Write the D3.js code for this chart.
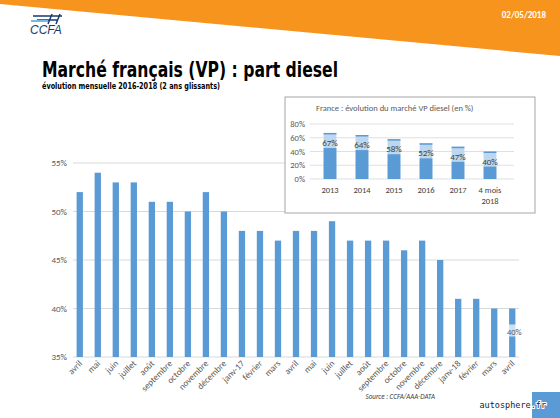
<!DOCTYPE html><html><head><meta charset="utf-8"><script src="https://cdn.jsdelivr.net/npm/d3@7"></script>
<style>body{margin:0}svg{display:block}</style></head><body><svg id="c" width="560" height="418"></svg>
<script>
const months=["avril","mai","juin","juillet","août","septembre","octobre","novembre","décembre","janv-17","février","mars","avril","mai","juin","juillet","août","septembre","octobre","novembre","décembre","janv-18","février","mars","avril"];
const share=[52,54,53,53,51,51,50,52,50,48,48,47,48,48,49,47,47,47,46,47,45,41,41,40,40];
const yTicks=[35,40,45,50,55];
const years=["2013","2014","2015","2016","2017","4 mois|2018"];
const yearTotal=[67,64,58,52,47,40];
const yearBase=[45,42,36,30,25,18];
const insetTicks=[0,20,40,60,80];
const svg=d3.select("#c");
const F="Calibri, Carlito, 'Liberation Sans', Arial, sans-serif";
svg.append("rect").attr("width",560).attr("height",418).attr("fill","#fff");
svg.append("path").attr("d","M0,0H560V56L0,4Z").attr("fill","#f7941d");
svg.append("text").attr("x",546).attr("y",18).attr("text-anchor","end").attr("fill","#fff").attr("font-family",F).attr("font-weight","bold").attr("font-size",9).text("02/05/2018");
const lg=svg.append("g").attr("fill","none").attr("stroke","#1a3a6e").attr("stroke-width",1.5);
lg.append("path").attr("d","M33,16H62M37,20H58M52,14L48,24M60,14L56,24");
svg.append("path").attr("d","M31,21H48").attr("stroke","#7ab8e0").attr("stroke-width",2);
svg.append("text").attr("x",30).attr("y",34).attr("font-family","'Liberation Sans',Arial").attr("font-style","italic").attr("font-size",12).attr("fill","#1a3a6e").text("CCFA");
svg.append("text").attr("x",42).attr("y",77).attr("font-family","Impact,'DejaVu Sans Condensed',sans-serif").attr("font-weight","bold").attr("font-size",21).attr("textLength",296).attr("lengthAdjust","spacingAndGlyphs").text("Marché français (VP) : part diesel");
svg.append("text").attr("x",42).attr("y",89).attr("font-family","'DejaVu Sans Condensed',sans-serif").attr("font-weight","bold").attr("font-size",8).attr("textLength",178).attr("lengthAdjust","spacingAndGlyphs").text("évolution mensuelle 2016-2018 (2 ans glissants)");
const x=d3.scaleBand().domain(d3.range(months.length)).range([73,519]).paddingInner(0.65).paddingOuter(0.2);
const y=d3.scaleLinear().domain([35,55]).range([357,163]);
const g=svg.append("g");
g.selectAll(".gl").data(yTicks).join("line").attr("x1",73).attr("x2",519).attr("y1",d=>y(d)).attr("y2",d=>y(d)).attr("stroke","#d9d9d9");
g.selectAll(".yl").data(yTicks).join("text").attr("x",67).attr("y",d=>y(d)+3).attr("text-anchor","end").attr("font-family",F).attr("font-size",9).attr("fill","#595959").text(d=>d+"%");
g.selectAll(".b").data(share).join("rect").attr("x",(d,i)=>x(i)).attr("width",x.bandwidth()).attr("y",d=>y(d)).attr("height",d=>y(35)-y(d)).attr("fill","#5b9bd5");
g.selectAll(".xl").data(months).join("text").attr("transform",(d,i)=>`translate(${x(i)+x.bandwidth()/2+3},${364}) rotate(-45)`).attr("text-anchor","end").attr("font-family",F).attr("font-size",9).attr("fill","#595959").text(d=>d);
const li=share.length-1;
g.append("rect").attr("x",x(li)-6).attr("y",y(40)+16).attr("width",18).attr("height",12).attr("fill","#fff").attr("opacity",0.7);
g.append("text").attr("x",x(li)+x.bandwidth()/2+2).attr("y",y(40)+26).attr("text-anchor","middle").attr("font-family",F).attr("font-size",8.5).attr("fill","#595959").text("40%");
svg.append("rect").attr("x",285).attr("y",97).attr("width",250).attr("height",116).attr("fill","#fff").attr("stroke","#a6a6a6");
svg.append("text").attr("x",316).attr("y",111).attr("font-family",F).attr("font-size",8.5).attr("fill","#595959").text("France : évolution du marché VP diesel (en %)");
const xi=d3.scaleBand().domain(years).range([314,506]).paddingInner(0.6).paddingOuter(0.3);
const yi=d3.scaleLinear().domain([0,80]).range([179,124]);
svg.selectAll(".igl").data(insetTicks).join("line").attr("x1",310).attr("x2",514).attr("y1",d=>yi(d)).attr("y2",d=>yi(d)).attr("stroke","#e0e0e0");
svg.selectAll(".iyl").data(insetTicks).join("text").attr("x",305).attr("y",d=>yi(d)+3).attr("text-anchor","end").attr("font-family",F).attr("font-size",8.5).attr("fill","#595959").text(d=>d+"%");
svg.selectAll(".ib1").data(years).join("rect").attr("x",d=>xi(d)).attr("width",xi.bandwidth()).attr("y",(d,i)=>yi(yearTotal[i])).attr("height",(d,i)=>yi(0)-yi(yearTotal[i])).attr("fill","#bdd7ee");
svg.selectAll(".ib2").data(years).join("rect").attr("x",d=>xi(d)).attr("width",xi.bandwidth()).attr("y",(d,i)=>yi(yearBase[i])).attr("height",(d,i)=>yi(0)-yi(yearBase[i])).attr("fill","#5b9bd5");
svg.selectAll(".ib3").data(years).join("rect").attr("x",d=>xi(d)).attr("width",xi.bandwidth()).attr("y",(d,i)=>yi(yearTotal[i])).attr("height",1.5).attr("fill","#5b9bd5");
svg.selectAll(".ivl").data(years).join("text").attr("x",d=>xi(d)+xi.bandwidth()/2).attr("y",(d,i)=>yi(yearTotal[i])+13).attr("text-anchor","middle").attr("font-family",F).attr("font-size",9).attr("fill","#404040").text((d,i)=>yearTotal[i]+"%");
svg.selectAll(".ixl").data(years).join("text").attr("x",d=>xi(d)+xi.bandwidth()/2).attr("y",193).attr("text-anchor","middle").attr("font-family",F).attr("font-size",8.5).attr("fill","#404040").each(function(d){const p=d.split("|");d3.select(this).selectAll("tspan").data(p).join("tspan").attr("x",xi(d)+xi.bandwidth()/2).attr("dy",(t,j)=>j?11:0).text(t=>t);});
svg.append("text").attr("x",435).attr("y",399).attr("text-anchor","end").attr("font-family",F).attr("font-style","italic").attr("font-size",7).attr("fill","#404040").text("Source : CCFA/AAA-DATA");
svg.append("rect").attr("x",532).attr("y",392).attr("width",28).attr("height",26).attr("fill","#5b9bd5");
svg.append("text").attr("x",546).attr("y",408).attr("text-anchor","end").attr("font-family","'DejaVu Sans Mono',monospace").attr("font-size",8.5).attr("fill","#222").attr("stroke","#fff").attr("stroke-width",2).attr("paint-order","stroke").text("autosphere.fr");
</script></body></html>
